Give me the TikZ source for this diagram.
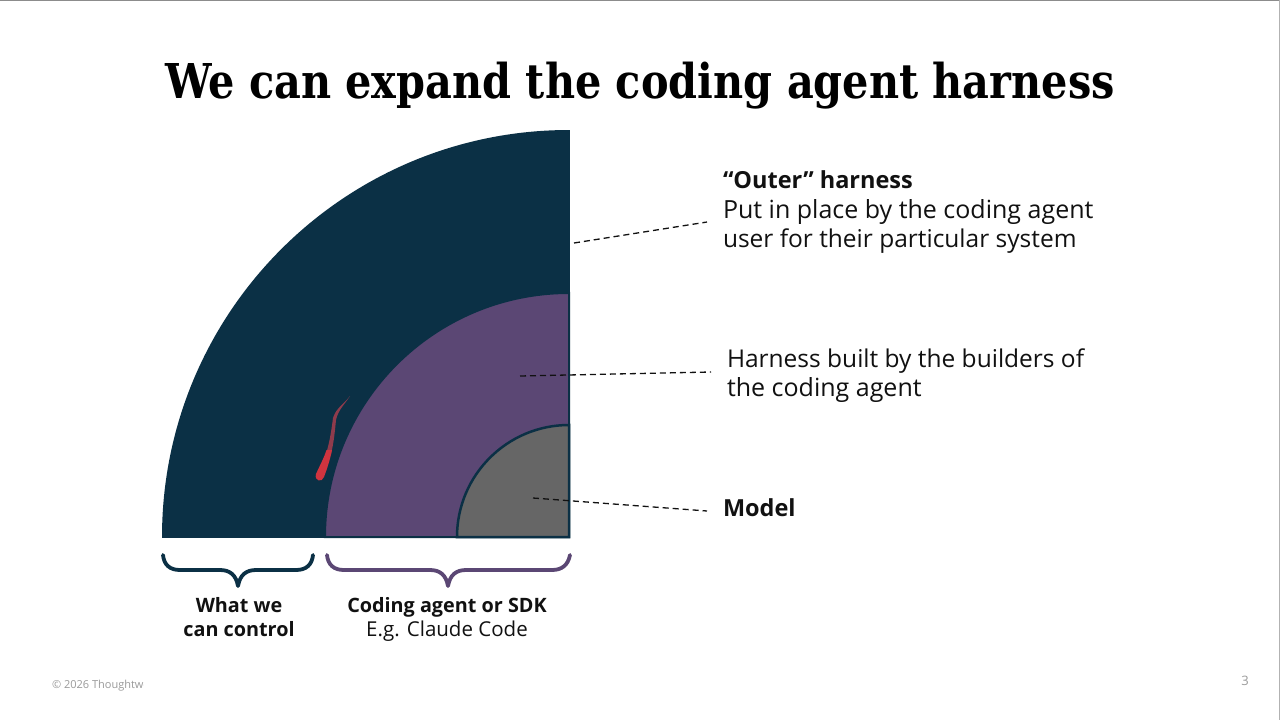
\documentclass[tikz,border=0pt]{standalone}
\usepackage{fontspec}
\setmainfont{Open Sans}
\newfontfamily\titlefont[FakeStretch=0.863]{DejaVu Serif}
\definecolor{navy}{HTML}{0B3045}
\definecolor{plum}{HTML}{5B4774}
\definecolor{stone}{HTML}{666666}
\definecolor{ink}{HTML}{111111}
\definecolor{foot}{HTML}{9A9A9A}
\definecolor{streak}{HTML}{D0343F}
\definecolor{streakmid}{HTML}{8F3B4C}
\newcommand{\lineReg}[1]{{\fontsize{#1}{29.5}\selectfont}}
\tikzset{
  every node/.style={inner sep=0pt,outer sep=0pt,text=ink},
  leader/.style={draw=ink,line width=1.3pt,dash pattern=on 6pt off 4pt},
  bracepath/.style={line width=3.8pt,line cap=round,line join=round,fill=none},
  bodytext/.style={anchor=base west},
  captext/.style={anchor=base},
  bold235/.style={font=\fontsize{23.5}{29.5}\selectfont\bfseries},
  reg25/.style={font=\fontsize{25}{29.5}\selectfont},
  reg245/.style={font=\fontsize{24.5}{29.5}\selectfont},
  capbold/.style={font=\fontsize{19.8}{24}\selectfont\bfseries},
  capreg/.style={font=\fontsize{20.5}{24}\selectfont},
}
\begin{document}
\begin{tikzpicture}[x=1pt,y=-1pt]
\useasboundingbox (0,0) rectangle (1280,720);
\fill[white] (0,0) rectangle (1280,720);
\draw[line width=1pt,draw=black!45] (0,0.5) -- (1280,0.5);
\draw[line width=1pt,draw=black!30] (1279.5,0) -- (1279.5,720);
\node[anchor=center,text=black] (title) at (640,86) {\titlefont\bfseries\fontsize{48}{56}\selectfont We can expand the coding agent harness};
% quarter discs
\fill[navy] (569,537) -- (162,537) arc[start angle=180,end angle=270,radius=407] -- cycle;
\filldraw[fill=plum,draw=navy,line width=2pt] (569,537) -- (325,537) arc[start angle=180,end angle=270,radius=244] -- cycle;
\filldraw[fill=stone,draw=navy,line width=2.5pt] (569,537) -- (457,537) arc[start angle=180,end angle=270,radius=112] -- cycle;
\draw[navy,line width=2.5pt] (162,537) -- (569,537) -- (569,130);
% streak
\fill[streakmid] (350,396) .. controls (344,404) and (336,408) .. (333,418) .. controls (331,434) and (329,444) .. (326,454) -- (331,454) .. controls (334,442) and (335,430) .. (336,420) .. controls (338,410) and (345,404) .. (350,396) -- cycle;
\fill[streak] (326.5,450) .. controls (324,458) and (320,465) .. (316,474) .. controls (314,481) and (322,483) .. (324,477) .. controls (327,469) and (330,460) .. (332,450) -- cycle;
% leaders
\coordinate (a1) at (574,243); \coordinate (a2) at (707,222);
\coordinate (b1) at (520,376); \coordinate (b2) at (711,372);
\coordinate (c1) at (533,498); \coordinate (c2) at (707,511);
\draw[leader] (a1) -- (a2);
\draw[leader] (b1) -- (b2);
\draw[leader] (c1) -- (c2);
% labels
\node[bodytext,bold235] (outer1) at (723,188) {“Outer” harness};
\node[bodytext,reg25] (outer2) at (723,218) {Put in place by the coding agent};
\node[bodytext,reg245] (outer3) at (723,247) {user for their particular system};
\node[bodytext,reg245] (built1) at (727,367) {Harness built by the builders of};
\node[bodytext,reg25] (built2) at (727,396) {the coding agent};
\node[bodytext,bold235] (model) at (723,516) {Model};
% braces
\draw[navy,bracepath] (163,555) .. controls (164,565) and (170,570) .. (180,570) -- (220,570) .. controls (230,570) and (236,575) .. (238,586) .. controls (240,575) and (246,570) .. (256,570) -- (296,570) .. controls (306,570) and (312,565) .. (313,555);
\draw[plum,bracepath] (327,555) .. controls (328,565) and (334,570) .. (344,570) -- (430,570) .. controls (440,570) and (446,575) .. (448,586) .. controls (450,575) and (456,570) .. (466,570) -- (552,570) .. controls (562,570) and (568,565) .. (570,555);
\node[captext,capbold] (ctl1) at (239,612) {What we};
\node[captext,capbold] (ctl2) at (239,636) {can control};
\node[captext,capbold] (sdk1) at (447,612) {Coding agent or SDK};
\node[captext,capreg] (sdk2) at (447,636) {E.g. Claude Code};
% footer
\begin{scope}
\clip (40,670) rectangle (143.5,695);
\node[anchor=base west,font=\fontsize{11}{13}\selectfont,text=foot] (copy) at (52,688) {© 2026 Thoughtworks};
\end{scope}
\node[anchor=center,font=\fontsize{13}{15}\selectfont,text=foot] (page) at (1245,681) {3};
\end{tikzpicture}
\end{document}
